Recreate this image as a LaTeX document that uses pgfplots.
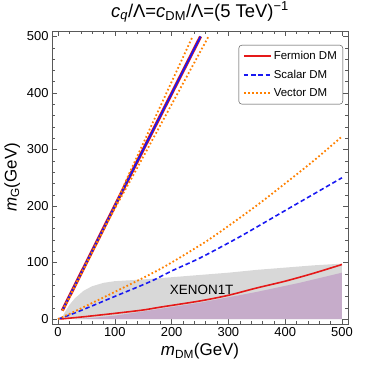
\documentclass[border=0pt]{standalone}
\usepackage{fontspec}
\setmainfont{Liberation Sans}
\usepackage{pgfplots}
\pgfplotsset{compat=1.18}
\definecolor{mred}{rgb}{0.9,0.1,0.1}
\definecolor{mblue}{rgb}{0.1,0.1,0.95}
\definecolor{morange}{rgb}{1,0.5,0.0}
\definecolor{xgray}{RGB}{216,216,216}
\definecolor{xpurple}{RGB}{198,172,202}
\begin{document}
\begin{tikzpicture}
\useasboundingbox (-52bp,-46bp) rectangle (322bp,324bp);
\begin{axis}[
  at={(0,0)}, anchor=south west,
  scale only axis, width=296bp, height=293bp,
  xmin=-10.6, xmax=510.6, ymin=-8.8, ymax=509.7,
  xtick={0,100,...,500}, ytick={0,100,...,500},
  minor x tick num=4, minor y tick num=4,
  major tick length=5bp, minor tick length=3bp,
  axis line style={black!65}, every tick/.style={black!65},
  /pgf/number format/assume math mode=true,
  ticklabel style={font=\fontsize{13}{13}\selectfont},
  label style={font=\fontsize{17}{17}\selectfont},
  title style={font=\fontsize{18.5}{18.5}\selectfont, yshift=-1bp},
  title={\textit{c}\textsubscript{\textit{q}}/Λ=\textit{c}\textsubscript{DM}/Λ=(5 TeV)\textsuperscript{−1}},
  xlabel={\textit{m}\textsubscript{DM}(GeV)},
  ylabel={\textit{m}\textsubscript{G}(GeV)},
  legend style={at={(1,1)}, xshift=-5bp, yshift=-14bp, anchor=north east,
    draw=black!75, rounded corners=3pt, font=\fontsize{11.5}{11.5}\selectfont,
    row sep=5bp, inner xsep=4bp, inner ysep=4bp},
  legend cell align=left,
]
% XENON1T excluded region
\addplot[fill=xgray, draw=none, forget plot] coordinates {
 (7,0) (9,6) (12,12) (20,25) (30,37) (45,50) (60,58) (80,64) (100,67)
 (150,70) (200,74) (250,78) (300,82) (350,87) (400,91) (450,95) (500,98) (500,0)} -- cycle;
\addplot[fill=xpurple, draw=none, forget plot] coordinates {
 (30,0) (60,2) (100,6) (160,15) (250,29) (350,48) (425,64) (500,82) (500,0)} -- cycle;
\node[font=\fontsize{13.5}{13.5}\selectfont] at (axis cs:253,51) {XENON1T};
% legend samples
\addlegendimage{legend image code/.code={\draw[color=mred, line width=1.6pt] (0bp,0bp) -- (27bp,0bp);}}
\addlegendentry{Fermion DM}
\addlegendimage{legend image code/.code={\draw[color=mblue, line width=1.6pt, dash pattern=on 4.5bp off 2.8bp] (0bp,0bp) -- (27bp,0bp);}}
\addlegendentry{Scalar DM}
\addlegendimage{legend image code/.code={\draw[color=morange, line width=2pt, dash pattern=on 2bp off 2bp] (0bp,0bp) -- (27bp,0bp);}}
\addlegendentry{Vector DM}
% lower branches
\addplot[mred, line width=1.6pt, smooth, forget plot] coordinates {
 (4,0) (25,2) (50,4.5) (100,10) (150,16) (180,21) (250,32) (300,42) (350,55) (400,67) (450,81) (500,96.5)};
\addplot[mblue, line width=1.6pt, dash pattern=on 4.5bp off 2.8bp, smooth, forget plot] coordinates {
 (0,0) (20,7) (45,17) (100,40) (162,66) (200,85) (250,108) (310,140) (340,157) (400,192) (450,221) (500,250)};
\addplot[morange, line width=1.8pt, dash pattern=on 1.7bp off 2.3bp, smooth, forget plot] coordinates {
 (0,0) (20,9) (45,21) (100,48) (162,79) (200,100) (262,138) (288,156) (350,201) (400,240) (450,280) (500,323)};
% resonance branches
\addplot[mred, line width=3.2pt, forget plot] coordinates {(7.5,15) (130,260) (251,500)};
\addplot[mblue, line width=1.8pt, forget plot] coordinates {(7.5,15) (130,260) (251,500)};
\addplot[morange, line width=1.8pt, dash pattern=on 1.7bp off 2.3bp, smooth, forget plot] coordinates {
 (8,15) (76,150) (100,199) (122,250) (145,300) (168,350) (191,400) (214,450) (237,500)};
\addplot[morange, line width=1.8pt, dash pattern=on 1.7bp off 2.3bp, smooth, forget plot] coordinates {
 (8,15) (76,150) (103,201) (130,250) (157,300) (184,350) (211,400) (238,450) (265,500)};
\end{axis}
\end{tikzpicture}
\end{document}
